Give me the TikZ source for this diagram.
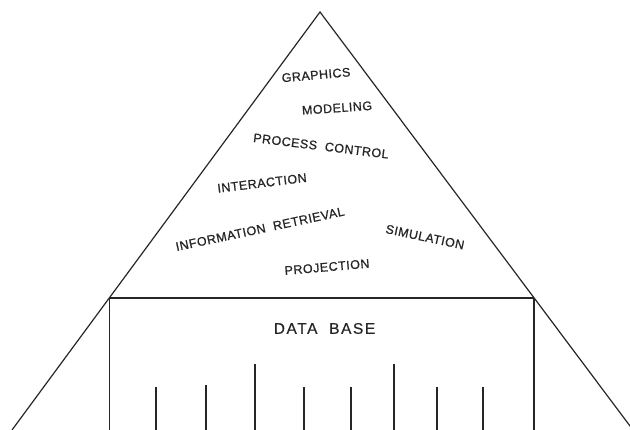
\documentclass[tikz,border=0pt]{standalone}
\usepackage{fontspec}
\setmainfont{Liberation Sans}
\usetikzlibrary{calc}

\begin{document}
\begin{tikzpicture}[x=1pt, y=-1pt,
    edge/.style={line width=1.2pt, black!85},
    tick/.style={line width=1.2pt, black!85},
    lbl/.style={font=\fontsize{12.5}{14}\selectfont\addfontfeature{LetterSpace=4,FakeBold=0.8}, text=black!85, inner sep=0pt},
    dblbl/.style={font=\fontsize{15.5}{17}\selectfont\addfontfeature{LetterSpace=10,FakeBold=0.6}, text=black!85, inner sep=0pt}]
    \useasboundingbox (0,0) rectangle (630,430);

    % Pyramid outline
    \coordinate (apex) at (320,12);
    \coordinate (baseL) at (12,430);
    \coordinate (baseR) at (633,430);
    \coordinate (dbL) at ($(apex)!0.684!(baseL)$);
    \coordinate (dbR) at ($(apex)!0.684!(baseR)$);
    \draw[edge] (baseL) -- (apex) -- (baseR);

    % Data base box
    \draw[edge] (dbL) -- (dbR);
    \draw[edge] (dbL) -- (dbL |- baseL);
    \draw[edge] (dbR) -- (dbR |- baseR);
    \node[dblbl] (database) at (324.5,328.5) {DATA\ \ BASE};

    % Ticks
    \foreach \x/\top in {156/387, 206/385, 255/364, 304/387, 351/387, 394/364, 437/387, 483/387}
        \draw[tick] (\x,\top) -- (\x,430);

    % Applications
    \node[lbl, rotate=5] (graphics) at (316,75) {GRAPHICS};
    \node[lbl, rotate=4] (modeling) at (337,108) {MODELING};
    \node[lbl, rotate=-7] (process) at (321,146) {PROCESS\ \ CONTROL};
    \node[lbl, rotate=7] (interaction) at (262,183) {INTERACTION};
    \node[lbl, rotate=12] (retrieval) at (260,229) {INFORMATION\ \ RETRIEVAL};
    \node[lbl, rotate=-12] (simulation) at (425,237) {SIMULATION};
    \node[lbl, rotate=5] (projection) at (327,267) {PROJECTION};

\end{tikzpicture}
\end{document}
